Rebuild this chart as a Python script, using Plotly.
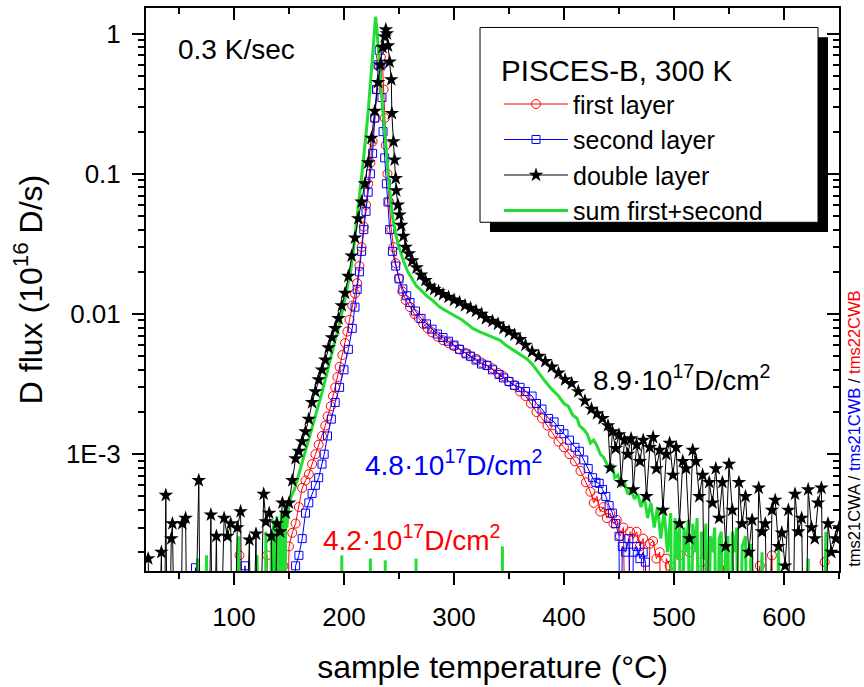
import plotly.graph_objects as go

# ---------------- data ----------------
LOW = 1e-5  # values below the visible range (zero / negative signal)

first_T = [60, 100, 105, 107, 128, 130, 132, 140, 145, 148, 150, 153, 156, 159, 162, 165, 168, 171, 174, 177,
           180, 183, 185, 188, 190, 192, 194, 196, 198.5, 201, 203, 205, 207.5, 210, 212, 214, 216, 218, 220, 222,
           224, 226, 228, 230, 232, 233.5, 235, 236, 237, 238, 239.5, 241, 243, 245, 247, 250, 253, 256, 260, 264,
           268, 272, 276, 280, 285, 290, 295, 300, 305, 310, 315, 320, 325, 330, 335, 340, 345, 350, 355, 360,
           365, 370, 375, 380, 385, 390, 395, 400, 405, 410, 415, 420, 424, 427, 430, 433, 436, 439, 442, 445,
           448, 451, 454, 457, 460, 463, 466, 469, 472, 475, 478, 481, 484, 487, 490, 493, 496, 500, 505, 510,
           514, 518, 525, 530, 545, 550, 560, 578, 582, 589, 592, 630, 637, 640]
first_flux = [LOW, LOW, 1.9e-4, LOW, LOW, 1.9e-4, LOW, LOW, 1.6e-4, LOW, 2.2e-4, 2.75e-4, 3.2e-4, 4.2e-4, 5.75e-4,
              6.5e-4, 7.2e-4, 8.5e-4, 1.0e-3, 1.17e-3, 1.35e-3, 1.6e-3, 1.86e-3, 2.2e-3, 2.6e-3, 3.0e-3, 3.55e-3,
              4.2e-3, 5.1e-3, 6.2e-3, 7.5e-3, 9.1e-3, 1.15e-2, 1.4e-2, 1.66e-2, 2.2e-2, 3.0e-2, 4.2e-2, 6.0e-2,
              8.5e-2, 0.12, 0.17, 0.25, 0.40, 0.58, 0.68, 0.60, 0.40, 0.25, 0.16, 0.10, 0.063, 0.040, 0.030, 0.023,
              0.018, 0.0145, 0.0126, 0.0112, 0.0100, 0.0093, 0.0085, 0.0079, 0.0074, 0.0069, 0.0065, 0.0062,
              0.0059, 0.0056, 0.0053, 0.0050, 0.0048, 0.0045, 0.0043, 0.0041, 0.0038, 0.0036, 0.0033, 0.0031,
              0.0028, 0.0026, 0.0023, 0.0020, 0.0018, 0.0016, 0.0014, 0.00123, 0.00112, 0.0010, 8.9e-4, 7.6e-4,
              6.3e-4, 5.4e-4, 4.5e-4, 5.0e-4, 3.9e-4, 4.2e-4, 3.5e-4, 3.8e-4, 3.2e-4, 3.4e-4, 2.6e-4, 3.0e-4, LOW,
              2.8e-4, 2.5e-4, 2.8e-4, 2.2e-4, 2.5e-4, LOW, 2.3e-4, 2.4e-4, 1.8e-4, 2.0e-4, LOW, 1.8e-4, 1.6e-4,
              LOW, 1.9e-4, LOW, 2.0e-4, LOW, 1.7e-4, LOW, 1.6e-4, LOW, LOW, 1.6e-4, LOW, 1.9e-4, LOW, LOW,
              1.7e-4, LOW]

second_T = [60, 65, 67, 108, 110, 112, 140, 150, 156, 159, 162, 165, 168, 171, 174, 177, 180, 182, 185, 188.5,
            192, 196, 200, 204, 207.5, 210, 212, 214, 216, 218, 220, 222, 224, 226, 228, 229.5, 231, 232, 233.5,
            234.5, 235.5, 237, 238.5, 240, 241.5, 244, 247, 250, 253.5, 257, 260, 265, 270, 275, 280, 285, 290,
            295, 300, 305, 311, 315, 320, 325, 330, 335, 341, 345, 350, 355, 360, 365, 371, 375, 380, 386, 391,
            396, 400, 405, 410, 414, 418, 422, 426, 429, 432, 435, 438, 441, 444, 447, 450, 451, 453, 456, 459,
            461, 463, 466, 469, 472, 474, 477, 480, 490]
second_flux = [LOW, 1.55e-4, LOW, LOW, 1.6e-4, LOW, LOW, LOW, 1.6e-4, 1.9e-4, 2.5e-4, 3.8e-4, 4.5e-4, 5.25e-4,
               6.0e-4, 6.8e-4, 8.5e-4, 1.0e-3, 1.35e-3, 1.78e-3, 2.34e-3, 3.0e-3, 4.0e-3, 5.6e-3, 7.9e-3, 1.12e-2,
               1.5e-2, 2.0e-2, 2.8e-2, 4.0e-2, 5.4e-2, 7.4e-2, 0.10, 0.14, 0.25, 0.40, 0.60, 0.76, 0.60, 0.35, 0.20,
               0.13, 0.085, 0.063, 0.040, 0.028, 0.022, 0.0178, 0.0151, 0.0135, 0.0121, 0.0105, 0.0093, 0.0085,
               0.0078, 0.0072, 0.0068, 0.0064, 0.0060, 0.0056, 0.0052, 0.0050, 0.0047, 0.0044, 0.0043, 0.0040,
               0.0037, 0.0035, 0.0033, 0.0031, 0.0030, 0.0028, 0.0026, 0.0023, 0.0021, 0.0018, 0.0017, 0.0015,
               0.0014, 0.00126, 0.00112, 0.00105, 9.1e-4, 7.9e-4, 6.8e-4, 6.3e-4, 6.2e-4, 5.6e-4, 5.0e-4, 4.3e-4,
               3.8e-4, 3.2e-4, 2.6e-4, LOW, 2.2e-4, 2.0e-4, 2.5e-4, LOW, 2.0e-4, 2.2e-4, 1.8e-4, 2.0e-4, 1.7e-4,
               LOW, LOW, LOW]

double_T = [22, 25, 30, 34, 36, 38, 40, 43, 44, 47, 51, 53, 56, 58, 63, 68, 70, 76, 79, 81, 84, 86, 91, 94, 97,
            99, 103, 106, 108, 114, 116, 120, 122, 127, 129, 132, 134, 136, 139, 142, 144, 147, 150, 153, 156,
            159, 162, 165, 168, 171, 174, 177, 180, 183, 186, 189, 192, 195, 198, 201, 204, 207, 210, 213, 216,
            219, 222, 225, 228, 231, 233, 235, 237, 238, 239, 240, 241.5, 243, 243.5, 245, 246, 247, 247.5, 249,
            250.5, 252, 254, 256, 259, 262, 266, 270, 274, 278, 282, 286, 290, 295, 300, 305, 310, 315, 320, 325,
            329, 335, 340, 345, 350, 355, 360, 365, 371, 377, 383, 389, 395, 401, 407, 413, 419, 425, 430, 435,
            440, 442, 444, 447, 450, 452, 455, 458, 461, 463, 466, 469, 472, 475, 478, 481, 484, 487, 490, 493,
            496, 499, 502, 505, 508, 511, 514, 517, 520, 523, 526, 529, 532, 535, 538, 541, 544, 547, 550, 553,
            556, 559, 562, 565, 568, 571, 574, 577, 580, 583, 586, 589, 592, 595, 598, 601, 604, 607, 610, 613,
            616, 619, 622, 625, 628, 631, 634, 637, 640, 643, 647, 650]
double_flux = [1.8e-4, LOW, LOW, 2.0e-4, LOW, 5.1e-4, LOW, 2.5e-4, 3.2e-4, LOW, LOW, 3.2e-4, 3.5e-4, LOW, LOW,
               6.5e-4, LOW, LOW, 3.7e-4, LOW, 2.6e-4, LOW, 3.5e-4, 2.6e-4, 3.2e-4, LOW, 3.0e-4, 3.9e-4, LOW,
               2.45e-4, LOW, 2.7e-4, LOW, 5.2e-4, 3.3e-4, 3.8e-4, 2.6e-4, LOW, 3.2e-4, 2.8e-4, 4.5e-4, 3.8e-4,
               4.5e-4, 6.5e-4, 9.3e-4, 1.05e-3, 1.23e-3, 1.45e-3, 1.78e-3, 2.34e-3, 2.8e-3, 3.4e-3, 4.0e-3, 4.7e-3,
               5.75e-3, 6.8e-3, 7.9e-3, 9.3e-3, 1.15e-2, 1.41e-2, 1.86e-2, 2.6e-2, 3.5e-2, 4.8e-2, 6.3e-2, 8.5e-2,
               0.12, 0.18, 0.28, 0.45, 0.60, 0.80, 0.95, 1.07, 1.0, 0.82, 0.63, 0.47, 0.27, 0.17, 0.126, 0.093,
               0.076, 0.060, 0.051, 0.043, 0.036, 0.030, 0.027, 0.024, 0.0214, 0.019, 0.0174, 0.0158, 0.0150,
               0.0145, 0.0138, 0.0132, 0.0126, 0.0121, 0.0115, 0.0110, 0.0105, 0.0100, 0.0093, 0.0089, 0.0085,
               0.0079, 0.0075, 0.0071, 0.0066, 0.0060, 0.0054, 0.0050, 0.0046, 0.0042, 0.0038, 0.0034, 0.0032,
               0.0028, 0.0024, 0.0021, 0.00195, 0.0018, 0.0016, 8.0e-4, 1.45e-3, 1.1e-3, 1.38e-3, 6.3e-4, 1.26e-3,
               1.0e-3, 1.29e-3, 5.6e-4, 1.17e-3, 8.9e-4, 1.26e-3, 5.0e-4, 1.12e-3, 1.32e-3, 7.9e-4, 1.07e-3,
               4.0e-4, 1.0e-3, 1.2e-3, 7.1e-4, 1.12e-3, 3.2e-4, 8.9e-4, 7.9e-4, 2.5e-4, 1.07e-3, 8.9e-4, 5.0e-4,
               7.1e-4, LOW, 6.3e-4, 4.5e-4, 7.9e-4, 3.5e-4, 6.3e-4, 2.2e-4, 8.5e-4, 4.0e-4, LOW, 6.3e-4, 3.2e-4,
               5.0e-4, 2.0e-4, 3.4e-4, LOW, 5.75e-4, 2.8e-4, 3.2e-4, LOW, 4.0e-4, 4.7e-4, 2.2e-4, 2.75e-4, 1.6e-4,
               4.0e-4, LOW, 5.2e-4, 2.8e-4, 3.5e-4, LOW, 5.6e-4, 3.0e-4, 2.5e-4, 4.5e-4, 5.75e-4, LOW, 3.2e-4,
               2.0e-4, 2.5e-4, 3.0e-4]

sum_T = [60, 66, 67, 68, 74, 75, 76, 103, 104, 105, 120, 121, 122, 128, 129, 130, 133, 134, 135, 136, 137, 139,
         140, 141, 142, 143, 144, 145, 146, 147, 148, 150, 152, 155, 159, 162, 165, 168, 171, 174, 177, 180, 183,
         186, 189, 192, 195, 198, 201, 204, 206, 208, 210, 212, 214, 216, 218, 220, 222, 224, 226, 227.5, 228.7,
         230, 231.5, 233, 235, 237, 239, 241.5, 244, 247, 250, 254, 258, 262, 266, 270, 275, 280, 287, 293, 300,
         307, 312, 317, 323, 330, 337, 342, 347, 353, 360, 366, 371, 377, 383, 389, 395, 400, 404, 408, 412, 414,
         418, 421, 424, 427, 430, 433, 436, 439, 441, 444, 446, 449, 452, 455, 458, 461, 464, 467, 470, 473, 476,
         479, 482, 485, 488, 491, 494, 497, 499, 501, 503, 505, 507, 509, 511, 513, 515, 517, 519, 521, 523, 525,
         527, 529, 531, 533, 535, 537, 539, 541, 543, 545, 547, 549, 551, 553, 555, 557, 559, 562, 565, 567, 570,
         573, 577, 580, 582, 593, 595, 597, 620, 622, 624, 636, 638, 640, 650]
sum_flux = [LOW, LOW, 1.8e-4, LOW, LOW, 1.9e-4, LOW, LOW, 2.6e-4, LOW, LOW, 1.9e-4, LOW, LOW, 2.8e-4, LOW, LOW,
            2.6e-4, LOW, 3.4e-4, LOW, 3.6e-4, LOW, 3.0e-4, LOW, 3.9e-4, 2.0e-4, 4.0e-4, LOW, 4.2e-4, 3.0e-4,
            4.5e-4, 5.0e-4, 5.6e-4, 7.2e-4, 8.7e-4, 1.05e-3, 1.26e-3, 1.5e-3, 1.86e-3, 2.24e-3, 2.75e-3, 3.4e-3,
            4.3e-3, 5.5e-3, 6.6e-3, 7.9e-3, 1.0e-2, 1.3e-2, 1.7e-2, 2.0e-2, 2.6e-2, 3.5e-2, 4.8e-2, 7.0e-2, 0.095,
            0.13, 0.19, 0.28, 0.42, 0.70, 1.0, 1.32, 1.05, 0.70, 0.50, 0.30, 0.20, 0.126, 0.078, 0.050, 0.037,
            0.030, 0.0240, 0.0200, 0.0178, 0.0158, 0.0148, 0.0135, 0.0126, 0.0112, 0.0105, 0.0098, 0.0091, 0.0085,
            0.0079, 0.0075, 0.0071, 0.0068, 0.0065, 0.0060, 0.0056, 0.0052, 0.0048, 0.0044, 0.0038, 0.0033,
            0.0029, 0.0026, 0.0023, 0.0022, 0.0019, 0.0018, 0.0016, 0.0015, 0.0014, 0.0012, 0.00126, 0.00115,
            0.0010, 9.5e-4, 8.5e-4, 7.9e-4, 8.5e-4, 6.8e-4, 7.1e-4, 6.0e-4, 6.3e-4, 5.2e-4, 5.6e-4, 4.8e-4,
            5.2e-4, 4.2e-4, 5.0e-4, 3.5e-4, 4.5e-4, 3.0e-4, 4.2e-4, 2.5e-4, 4.0e-4, 2.0e-4, 3.8e-4, LOW, 3.5e-4,
            1.8e-4, 3.2e-4, LOW, 3.0e-4, 2.0e-4, 3.4e-4, LOW, 3.2e-4, 2.0e-4, 3.5e-4, LOW, 2.8e-4, 1.8e-4,
            3.2e-4, LOW, 2.6e-4, 2.0e-4, 3.0e-4, LOW, 2.5e-4, 2.8e-4, LOW, 2.3e-4, 2.6e-4, LOW, 2.8e-4, 2.0e-4,
            3.0e-4, LOW, 2.2e-4, 2.6e-4, LOW, 2.3e-4, LOW, LOW, 2.0e-4, LOW, LOW, 2.3e-4, LOW, LOW, 1.8e-4, LOW,
            LOW, 2.8e-4, LOW, LOW]

# isolated short green bursts at the bottom of the sum curve
sum_burst_T = [198, 224, 237.5, 265.5, 344]
sum_burst_top = [1.9e-4, 1.8e-4, 1.75e-4, 1.8e-4, 2.2e-4]

y_tick_vals = [1e-3, 1e-2, 1e-1, 1]
y_tick_text = ["1E-3", "0.01", "0.1", "1"]
y_minor_vals = [m * 10.0 ** e for e in range(-4, 1) for m in range(2, 10)]

# ---------------- figure ----------------
FONT = "Arial, Liberation Sans, sans-serif"
GREEN = "#22dd33"
fig = go.Figure()

burst_x, burst_y = [], []
for t, top in zip(sum_burst_T, sum_burst_top):
    burst_x += [t, t, None]
    burst_y += [LOW, top, None]

fig.add_trace(go.Scatter(x=first_T, y=first_flux, name="first layer", mode="lines+markers",
                         line=dict(color="red", width=1),
                         marker=dict(symbol="circle-open", size=9, color="red", line=dict(width=1)),
                         legendrank=1))
fig.add_trace(go.Scatter(x=second_T, y=second_flux, name="second layer", mode="lines+markers",
                         line=dict(color="blue", width=1),
                         marker=dict(symbol="square-open", size=8, color="blue", line=dict(width=1)),
                         legendrank=2))
fig.add_trace(go.Scatter(x=sum_T, y=sum_flux, name="sum first+second", mode="lines",
                         line=dict(color=GREEN, width=3), legendrank=4))
fig.add_trace(go.Scatter(x=burst_x, y=burst_y, mode="lines", line=dict(color=GREEN, width=3),
                         showlegend=False, hoverinfo="skip"))
fig.add_trace(go.Scatter(x=double_T, y=double_flux, name="double layer", mode="lines+markers",
                         line=dict(color="black", width=1),
                         marker=dict(symbol="star", size=11, color="black"),
                         legendrank=3))
# carrier for the mirrored top/right axes
fig.add_trace(go.Scatter(x=[None], y=[None], xaxis="x2", yaxis="y2", showlegend=False, hoverinfo="skip"))

x_range = [20, 650]
y_range = [-3.833, 0.183]

common_x = dict(range=x_range, dtick=100, tick0=0, showgrid=False, zeroline=False, showline=True,
                linecolor="black", linewidth=2, tickwidth=2, tickcolor="black", ticklen=12)
fig.update_layout(
    width=864, height=687,
    margin=dict(l=146, r=25, t=8, b=101),
    paper_bgcolor="white", plot_bgcolor="white",
    font=dict(family=FONT, color="black"),
    showlegend=True,
    xaxis=dict(**common_x, ticks="outside", ticklabelstandoff=10,
               minor=dict(dtick=50, ticks="outside", ticklen=6, tickwidth=1.5, tickcolor="black"),
               tickfont=dict(size=26),
               title=dict(text="sample temperature (°C)", font=dict(size=32), standoff=24)),
    xaxis2=dict(**common_x, overlaying="x", side="top", anchor="y", ticks="inside", showticklabels=False,
                minor=dict(dtick=50, ticks="inside", ticklen=6, tickwidth=1.5, tickcolor="black")),
    yaxis=dict(type="log", range=y_range, tickmode="array", tickvals=y_tick_vals, ticktext=y_tick_text,
               ticks="outside", ticklen=12, tickwidth=2, tickcolor="black", ticklabelstandoff=6,
               minor=dict(tickmode="array", tickvals=y_minor_vals, ticks="outside", ticklen=6, tickwidth=1.5,
                          tickcolor="black"),
               showgrid=False, zeroline=False, showline=True, linecolor="black", linewidth=2,
               tickfont=dict(size=26),
               title=dict(text="D flux (10<sup>16</sup> D/s)", font=dict(size=32), standoff=14)),
    yaxis2=dict(type="log", range=y_range, overlaying="y", side="right", anchor="x", tickmode="array",
                tickvals=y_tick_vals, ticks="inside", ticklen=12, tickwidth=2, tickcolor="black",
                showticklabels=False,
                minor=dict(tickmode="array", tickvals=y_minor_vals, ticks="inside", ticklen=6, tickwidth=1.5,
                           tickcolor="black"),
                showgrid=False, zeroline=False, showline=True, linecolor="black", linewidth=2),
    legend=dict(x=0.5094, y=0.938, xanchor="left", yanchor="top", bgcolor="rgba(0,0,0,0)", borderwidth=0,
                font=dict(size=25, family=FONT), title=dict(text="PISCES-B, 300 K", font=dict(size=29.5)),
                tracegroupgap=0, itemwidth=64),
)

# legend frame with drop shadow (beneath everything drawn on the plot)
fig.add_shape(type="rect", xref="paper", yref="paper", x0=0.4964, x1=0.9841, y0=0.6021, y1=0.948,
              fillcolor="black", line=dict(width=0), layer="below")
fig.add_shape(type="rect", xref="paper", yref="paper", x0=0.482, x1=0.9697, y0=0.6194, y1=0.9654,
              fillcolor="white", line=dict(color="black", width=1), layer="below")

anns = [
    dict(text="0.3 K/sec", x=0.13, y=0.927, font=dict(size=28, color="black")),
    dict(text="8.9·10<sup>17</sup>D/cm<sup>2</sup>", x=0.7734, y=0.342, font=dict(size=28, color="black")),
    dict(text="4.8·10<sup>17</sup>D/cm<sup>2</sup>", x=0.4444, y=0.191, font=dict(size=28, color="blue")),
    dict(text="4.2·10<sup>17</sup>D/cm<sup>2</sup>", x=0.3824, y=0.058, font=dict(size=28, color="red")),
    dict(text="tms21CWA / <span style='color:blue'>tms21CWB</span> / <span style='color:red'>tms22CWB</span>",
         x=1.0216, y=0.2526, textangle=-90, font=dict(size=16.5, color="black")),
]
for a in anns:
    fig.add_annotation(xref="paper", yref="paper", showarrow=False, xanchor="center", yanchor="middle",
                       font_family=FONT, **a)

fig.write_html("out.html")
